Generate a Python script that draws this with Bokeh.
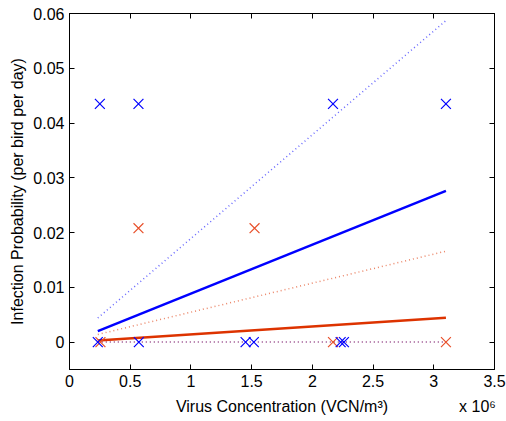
from bokeh.plotting import figure
from bokeh.models import LinearAxis, FixedTicker, Range1d
from bokeh.embed import file_html
from bokeh.resources import INLINE

# x in units of 1e6 VCN/m^3
blue_hit_x = [0.25, 0.568, 2.17, 3.10]
blue_hit_y = [0.0435, 0.0435, 0.0435, 0.0435]
blue_zero_x = [0.233, 0.571, 1.45, 1.518, 2.233, 2.26]
blue_zero_y = [0, 0, 0, 0, 0, 0]
red_hit_x = [0.568, 1.524]
red_hit_y = [0.0208, 0.0208]
red_zero_x = [0.255, 2.17, 3.10]
red_zero_y = [0, 0, 0]

fit_x = [0.233, 3.10]
blue_fit = [0.0020, 0.0276]
blue_upper = [0.0044, 0.0587]
blue_lower = [0.0, 0.0]
red_fit = [0.0003, 0.00445]
red_upper = [0.0014, 0.0166]
red_lower = [0.0, 0.0]

x_ticks = [0, 0.5, 1, 1.5, 2, 2.5, 3, 3.5]
x_tick_labels = ["0", "0.5", "1", "1.5", "2", "2.5", "3", "3.5"]
y_ticks = [0, 0.01, 0.02, 0.03, 0.04, 0.05, 0.06]
y_tick_labels = ["0", "0.01", "0.02", "0.03", "0.04", "0.05", "0.06"]
x_title = "Virus Concentration (VCN/m³)"
x_multiplier = "x 10⁶"
y_title = "Infection Probability (per bird per day)"

BLUE = "#0000ff"
RED = "#dd3300"
RED_MK = "#e8502a"
FONT = "Liberation Sans"

p = figure(width=506, height=421, output_backend="svg", toolbar_location=None,
           x_range=Range1d(0, 3.5), y_range=Range1d(-0.005, 0.06),
           min_border_left=69, min_border_right=12, min_border_top=13, min_border_bottom=52)
p.grid.visible = False
p.outline_line_color = "black"
p.background_fill_color = "white"
p.border_fill_color = "white"

def style_axis(ax, show_labels):
    ax.major_tick_in = 5
    ax.major_tick_out = 0
    ax.minor_tick_line_color = None
    ax.axis_line_color = "black"
    ax.major_tick_line_color = "black"
    ax.major_label_text_font = FONT
    ax.major_label_text_font_size = "16px"
    ax.major_label_text_color = "black"
    if not show_labels:
        ax.major_label_text_alpha = 0
        ax.major_label_text_font_size = "1px"

xa = p.xaxis[0]
xa.ticker = FixedTicker(ticks=x_ticks)
xa.major_label_overrides = dict(zip(x_ticks, x_tick_labels))
style_axis(xa, True)

# second "axis" below carrying the x title and the multiplier on one line
title_pos = [1.75, 3.36]
xt = LinearAxis(ticker=FixedTicker(ticks=title_pos),
                major_label_overrides=dict(zip(title_pos, [x_title, x_multiplier])))
xt.axis_line_color = None
xt.major_tick_line_color = None
xt.major_tick_in = 0
xt.major_tick_out = 0
xt.minor_tick_line_color = None
xt.major_label_text_font = FONT
xt.major_label_text_font_size = "16px"
xt.major_label_text_color = "black"
xt.major_label_standoff = 8
p.add_layout(xt, "below")

ya = p.yaxis[0]
ya.ticker = FixedTicker(ticks=y_ticks)
ya.major_label_overrides = dict(zip(y_ticks, y_tick_labels))
ya.axis_label = y_title
ya.axis_label_text_font = FONT
ya.axis_label_text_font_size = "16px"
ya.axis_label_text_font_style = "normal"
ya.axis_label_text_color = "black"
ya.axis_label_standoff = 4
style_axis(ya, True)

top = LinearAxis(ticker=FixedTicker(ticks=x_ticks))
style_axis(top, False)
p.add_layout(top, "above")
right = LinearAxis(ticker=FixedTicker(ticks=y_ticks))
style_axis(right, False)
p.add_layout(right, "right")

# lower bounds (dotted, overlapping at zero)
p.line(fit_x, blue_lower, line_color=BLUE, line_dash="1 3", line_width=1.5, line_alpha=0.5)
p.line(fit_x, red_lower, line_color=RED, line_dash="1 3", line_width=1.5, line_alpha=0.5)
# upper bounds
p.line(fit_x, blue_upper, line_color=BLUE, line_dash="1 3", line_width=1.5, line_alpha=0.6)
p.line(fit_x, red_upper, line_color=RED, line_dash="1 3", line_width=1.5, line_alpha=0.6)
# fits
p.line(fit_x, blue_fit, line_color=BLUE, line_width=2.5)
p.line(fit_x, red_fit, line_color=RED, line_width=2.5)

# observations
p.scatter(red_hit_x, red_hit_y, marker="x", size=14, line_color=RED_MK, line_width=1.2)
p.scatter(red_zero_x, red_zero_y, marker="x", size=14, line_color=RED_MK, line_width=1.2)
p.scatter(blue_hit_x, blue_hit_y, marker="x", size=14, line_color=BLUE, line_width=1.2)
p.scatter(blue_zero_x, blue_zero_y, marker="x", size=14, line_color=BLUE, line_width=1.2)

open("out.html", "w").write(file_html(p, INLINE))
